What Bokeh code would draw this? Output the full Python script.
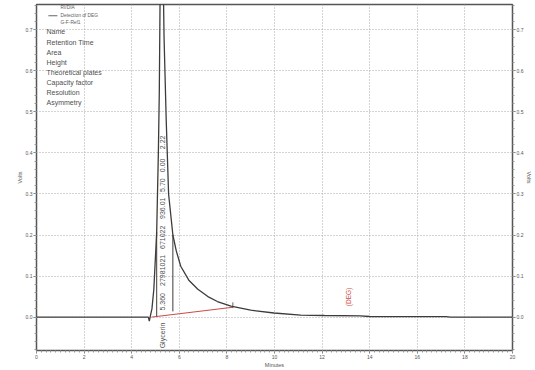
import math
from bokeh.plotting import figure
from bokeh.models import LinearAxis, SingleIntervalTicker, NumeralTickFormatter, Range1d
from bokeh.core.properties import value
from bokeh.embed import file_html
from bokeh.resources import INLINE

# Chromatogram trace (minutes, volts)
time_min = [0.0, 4.70, 4.74, 4.78, 4.85, 4.93, 5.05, 5.12, 5.16, 5.19, 5.27, 5.34,
            5.36, 5.45, 5.55, 5.73, 5.87, 6.06, 6.40, 6.78, 7.20, 7.60, 8.17, 9.00,
            9.98, 11.10, 12.10, 13.60, 14.00, 17.20, 17.40, 20.0]
volts = [0.0, 0.0, -0.010, 0.002, 0.020, 0.068, 0.207, 0.40, 0.55, 0.76, 0.95, 0.76,
         0.68, 0.48, 0.30, 0.200, 0.162, 0.124, 0.090, 0.068, 0.050, 0.038, 0.027, 0.017,
         0.010, 0.005, 0.004, 0.003, 0.0015, 0.001, 0.0, 0.0]

# Integration baseline (red) and peak boundary markers
base_t = [4.83, 8.25]
base_v = [0.000, 0.024]
bound_t = [5.05, 5.73]
bound_lo = [0.002, 0.014]
bound_hi = [0.207, 0.200]

# Peak result table
table_rows = ["Name", "Retention Time", "Area", "Height", "Theoretical plates",
              "Capacity factor", "Resolution", "Asymmetry"]
peak_values = ["Glycerin", "5.360", "27981021", "671022", "936.01", "5.70", "0.00", "2.22"]
value_y = [-0.076, 0.016, 0.076, 0.166, 0.239, 0.305, 0.353, 0.409]

legend_lines = ["RI/DIA", "Detection of DEG", "G-F-Ref1"]

x_ticks_interval = 2
y_ticks_interval = 0.1

FONT = "Liberation Sans"
INK = "#3c3c3c"
RED = "#cc4a44"

p = figure(width=535, height=370, output_backend="svg", toolbar_location=None,
           x_range=Range1d(0, 20), y_range=Range1d(-0.0813, 0.7614),
           min_border_left=36, min_border_right=23, min_border_top=4, min_border_bottom=18,
           background_fill_color="white", border_fill_color="white")

p.outline_line_color = "#555555"
p.outline_line_width = 1.5

# axes
p.xaxis.ticker = SingleIntervalTicker(interval=x_ticks_interval, num_minor_ticks=10)
p.yaxis.ticker = SingleIntervalTicker(interval=y_ticks_interval, num_minor_ticks=5)
p.yaxis.formatter = NumeralTickFormatter(format="0.0")

right = LinearAxis(ticker=SingleIntervalTicker(interval=y_ticks_interval, num_minor_ticks=5),
                   formatter=NumeralTickFormatter(format="0.0"), axis_label="Volts")
p.add_layout(right, "right")

p.xaxis.axis_label = "Minutes"
p.yaxis.axis_label = "Volts"
for ax in p.xaxis + p.yaxis:
    ax.axis_line_color = None
    ax.major_tick_line_color = "#777777"
    ax.minor_tick_line_color = "#999999"
    ax.major_tick_out = 3
    ax.major_tick_in = 0
    ax.minor_tick_out = 2
    ax.minor_tick_in = 0
    ax.major_label_text_font = FONT
    ax.major_label_text_font_size = "5px"
    ax.major_label_text_color = "#555555"
    ax.major_label_standoff = 1
    ax.axis_label_text_font = FONT
    ax.axis_label_text_font_size = "5.5px"
    ax.axis_label_text_font_style = "normal"
    ax.axis_label_text_color = "#555555"
    ax.axis_label_standoff = 0

p.xgrid.ticker = SingleIntervalTicker(interval=x_ticks_interval)
p.ygrid.ticker = SingleIntervalTicker(interval=y_ticks_interval)
for g in (p.xgrid, p.ygrid):
    g.grid_line_color = "#a8a8a8"
    g.grid_line_dash = "1 2"
    g.grid_line_width = 1

# trace
p.line(time_min, volts, line_color=INK, line_width=1.3)

# baseline and boundaries
p.line(base_t, base_v, line_color=RED, line_width=1)
p.segment(x0=bound_t, y0=bound_lo, x1=bound_t, y1=bound_hi, line_color=INK, line_width=1)
p.segment(x0=[base_t[1]], y0=[base_v[1] - 0.002], x1=[base_t[1]], y1=[base_v[1] + 0.012],
          line_color=INK, line_width=0.8)

# peak annotation, reading upward
p.text(x=[5.31] * len(peak_values), y=value_y, text=peak_values, angle=math.pi / 2,
       text_font=value(FONT), text_font_size="7px", text_color="#505050",
       text_align="left", text_baseline="middle")

p.text(x=[13.1], y=[0.049], text=["(DEG)"], angle=math.pi / 2,
       text_font=value(FONT), text_font_size="6.5px", text_color=RED,
       text_align="center", text_baseline="middle")

# result table column names
row_px = [32, 43, 53, 63, 73, 83, 93, 103]
row_y = [(318.5 - r) / 412.0 for r in row_px]
p.text(x=[0.42] * len(table_rows), y=row_y, text=table_rows,
       text_font=value(FONT), text_font_size="7px", text_color="#505050",
       text_align="left", text_baseline="middle")

# legend block
leg_y = [0.754, 0.734, 0.717]
p.text(x=[1.01] * 3, y=leg_y, text=legend_lines,
       text_font=value(FONT), text_font_size="4.8px", text_color="#606060",
       text_align="left", text_baseline="middle")
p.line([0.50, 0.88], [0.734, 0.734], line_color=INK, line_width=0.8)

open("out.html", "w").write(file_html(p, INLINE))
